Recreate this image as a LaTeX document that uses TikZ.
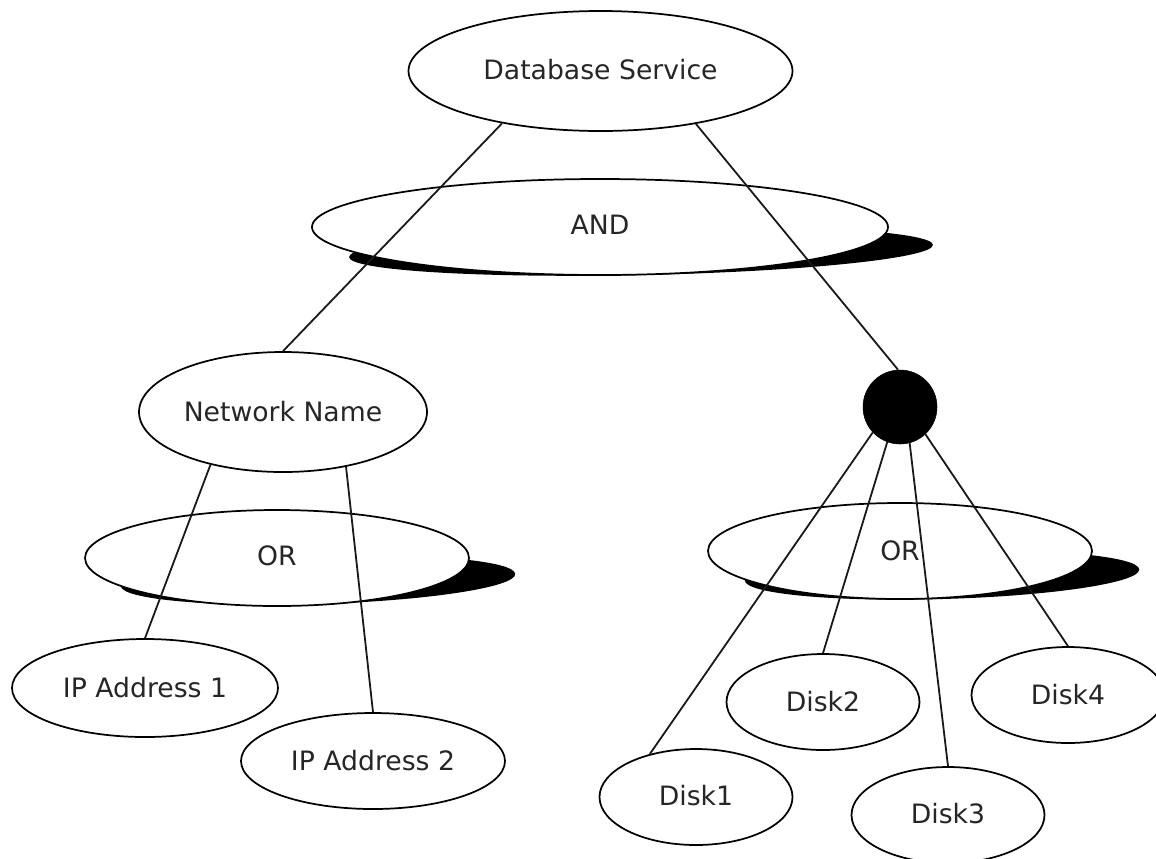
\documentclass[tikz,border=0pt]{standalone}
\usepackage{fontspec}
\setmainfont{DejaVu Sans}
\usetikzlibrary{shapes.geometric}
\newcommand{\up}[1]{\raisebox{3pt}{#1}}
\tikzset{
  x=0.75pt,y=-0.75pt,
  ell/.style 2 args={ellipse,draw=black,fill=white,line width=1.3pt,inner sep=0pt,
    minimum width=#1*0.75pt,minimum height=#2*0.75pt,text=black!85,font=\fontsize{20}{24}\selectfont},
  dot/.style={circle,fill=black,draw=black,inner sep=0pt,minimum size=55.5pt},
  link/.style={draw=black!90,line width=1.35pt},
  shade/.style={fill=black}
}
\begin{document}
\begin{tikzpicture}
\useasboundingbox (0,0) rectangle (1156,858);
% shadows
\fill[shade,rotate around={1.2:(641,251)}] (641,251) ellipse [x radius=219pt,y radius=18pt];
\fill[shade,rotate around={1.75:(318,580)}] (318,580) ellipse [x radius=148pt,y radius=18pt];
\fill[shade,rotate around={1.6:(942,575)}] (942,575) ellipse [x radius=148pt,y radius=18pt];
% nodes
\node[ell={384}{120}] (db) at (600.5,71) {\up{Database Service}};
\node[ell={576}{96}] (and) at (600,227) {\up{AND}};
\node[ell={288}{120}] (nn) at (283,412) {Network Name};
\node[dot] (jn) at (900,407) {};
\node[ell={384}{96}] (or1) at (277,558) {\up{OR}};
\node[ell={384}{96}] (or2) at (900,551) {OR};
\node[ell={266}{98}] (ip1) at (145,688) {IP Address 1};
\node[ell={264}{96}] (ip2) at (373,761) {IP Address 2};
\node[ell={193}{96}] (d1) at (696,797) {\up{Disk1}};
\node[ell={193}{96}] (d2) at (823,702) {Disk2};
\node[ell={193}{96}] (d3) at (948,815) {\up{Disk3}};
\node[ell={193}{96}] (d4) at (1068,695) {Disk4};
% connectors
\draw[link] (db.208.5) -- (nn.north);
\draw[link] (db.331) -- (jn.93);
\draw[link] (nn.216) -- (ip1.north);
\draw[link] (nn.319) -- (ip2.north);
\draw[link] (jn.223) -- (d1.137);
\draw[link] (jn.250) -- (d2.north);
\draw[link] (jn.285) -- (d3.north);
\draw[link] (jn.313) -- (d4.north);
\end{tikzpicture}
\end{document}
